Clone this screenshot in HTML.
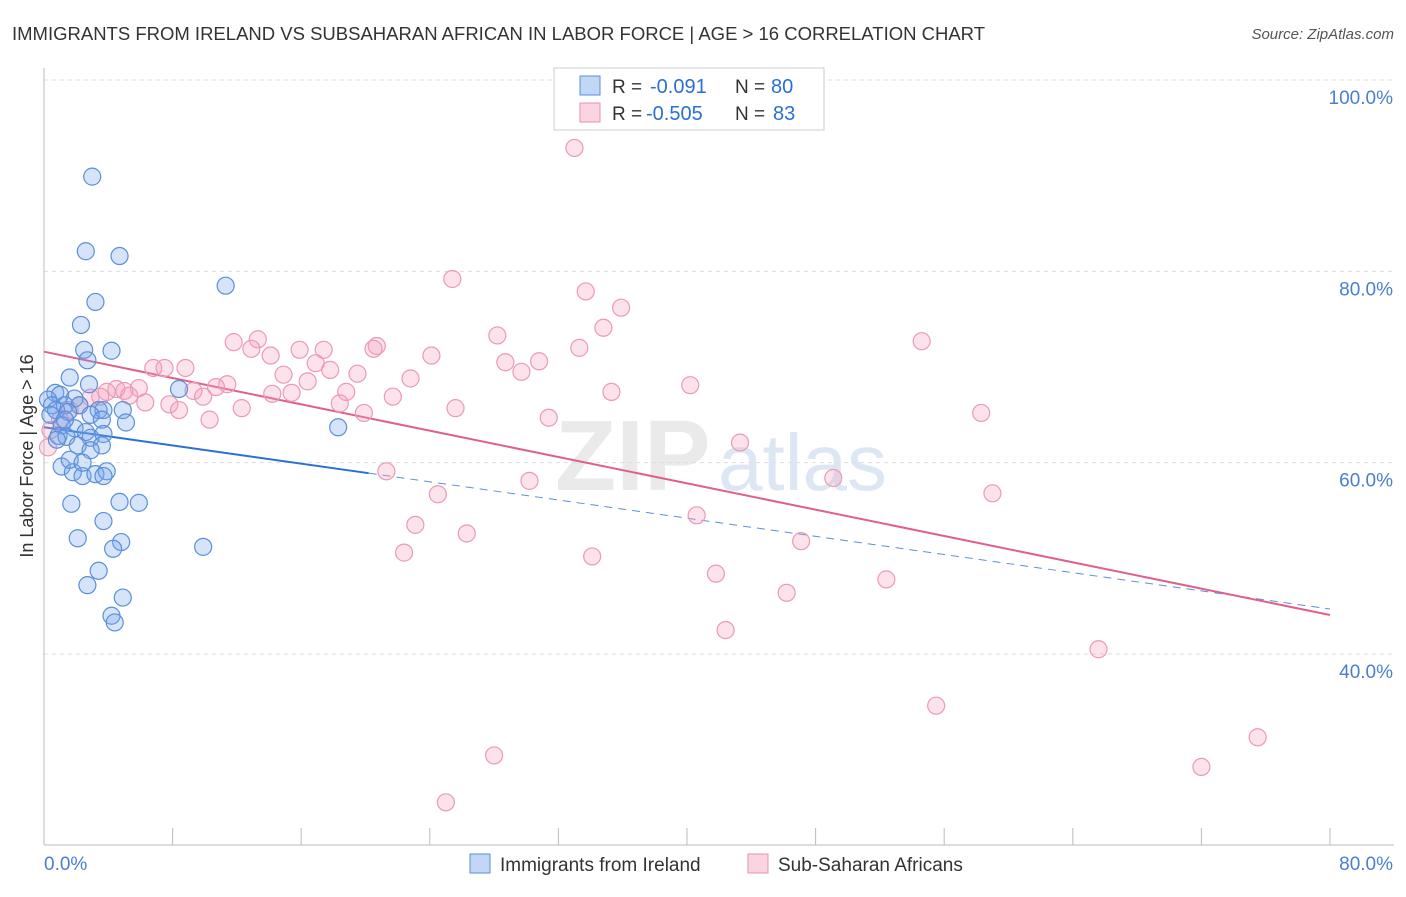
<!DOCTYPE html>
<html><head><meta charset="utf-8"><style>
body{margin:0;background:#fff;font-family:"Liberation Sans",sans-serif;}
svg text{font-family:"Liberation Sans",sans-serif;}
</style></head><body>
<svg id="chart" width="1406" height="892" xmlns="http://www.w3.org/2000/svg">
<text x="12" y="40" font-size="18" fill="#333" textLength="973" lengthAdjust="spacingAndGlyphs">IMMIGRANTS FROM IRELAND VS SUBSAHARAN AFRICAN IN LABOR FORCE | AGE &gt; 16 CORRELATION CHART</text>
<text x="1394" y="39" font-size="15" fill="#555" text-anchor="end" font-style="italic">Source: ZipAtlas.com</text>
<g>
<text x="555" y="490" font-size="100" fill="#ddd" font-family="Liberation Serif" font-weight="bold" opacity="0.6">ZIP</text>
<text x="718" y="490" font-size="80" fill="#c8d8ee" opacity="0.6">atlas</text>
</g>
<g id="grid"></g>
<g id="axes"></g>
<g id="lines"></g>
<g id="pts"></g>
<text transform="translate(33,456) rotate(-90)" font-size="18" fill="#333" text-anchor="middle">In Labor Force | Age &gt; 16</text>
<g>
<rect x="554" y="68" width="270" height="62" fill="#fff" stroke="#ccc"/>
<rect x="580" y="76" width="20" height="19" fill="rgba(120,165,235,0.45)" stroke="#5b8fd9"/>
<rect x="580" y="103" width="20" height="19" fill="rgba(245,160,190,0.45)" stroke="#e890aa"/>
<text x="612" y="93" font-size="19" fill="#333">R =</text>
<text x="650" y="93" font-size="20" fill="#2a6fd6">-0.091</text>
<text x="735" y="93" font-size="19" fill="#333">N =</text>
<text x="771" y="93" font-size="20" fill="#2a6fd6">80</text>
<text x="612" y="120" font-size="19" fill="#333">R =</text>
<text x="646" y="120" font-size="20" fill="#2a6fd6">-0.505</text>
<text x="735" y="120" font-size="19" fill="#333">N =</text>
<text x="773" y="120" font-size="20" fill="#2a6fd6">83</text>
</g>
<g>
<rect x="470" y="854" width="20" height="19" fill="rgba(120,165,235,0.45)" stroke="#5b8fd9"/>
<text x="500" y="871" font-size="19" fill="#333">Immigrants from Ireland</text>
<rect x="748" y="854" width="20" height="19" fill="rgba(245,160,190,0.45)" stroke="#e890aa"/>
<text x="778" y="871" font-size="19" fill="#333">Sub-Saharan Africans</text>
</g>
</svg>
<script>
const xTicks=[0,8,16,24,32,40,48,56,64,72,80];
const yTicks=[40,60,80,100];
const yTickLabels=["40.0%","60.0%","80.0%","100.0%"];
const xEndLabels=["0.0%","80.0%"];
const blueX=[3.0,2.6,4.7,11.3,3.2,2.3,2.5,4.2,2.7,1.6,2.8,8.4,0.7,1.0,1.9,0.25,0.5,1.3,2.2,3.4,3.7,4.9,0.75,1.5,2.9,3.6,5.1,1.1,1.9,2.6,0.9,1.4,2.9,3.7,3.6,18.3,1.1,1.8,2.4,3.2,3.9,3.7,1.7,4.7,5.9,3.7,2.1,4.8,4.3,9.9,3.4,2.7,4.9,4.2,4.4,0.4,1.3,2.1,2.9,0.8,1.6,2.4];
const blueY=[89.9,82.1,81.6,78.5,76.8,74.4,71.8,71.7,70.7,68.9,68.2,67.7,67.3,67.1,66.7,66.6,66.0,66.0,66.0,65.5,65.5,65.5,65.5,65.3,65.0,64.5,64.2,63.9,63.6,63.2,62.8,62.7,62.6,63.0,61.8,63.7,59.6,59.0,58.6,58.8,59.1,58.6,55.7,55.9,55.8,53.9,52.1,51.7,51.0,51.2,48.7,47.2,45.9,44.0,43.3,65.0,64.5,61.8,61.3,62.4,60.3,60.0];
const pinkX=[33.0,25.4,33.7,35.9,34.8,28.2,54.6,11.8,13.3,20.7,20.5,15.9,17.4,12.9,33.3,14.1,24.1,30.8,28.7,16.9,6.8,7.5,8.8,29.7,17.8,19.5,14.9,22.8,16.4,40.2,11.4,10.7,5.9,4.5,5.0,3.9,9.3,18.8,35.3,14.2,15.4,5.3,3.5,9.9,21.7,2.9,6.3,7.8,18.4,12.3,8.4,25.6,19.9,58.3,10.3,31.4,43.3,21.3,49.1,30.2,59.0,24.5,40.6,23.1,26.3,47.1,22.4,34.1,41.8,52.4,46.2,42.4,65.6,55.5,75.5,28.0,72.0,25.0,0.4,0.25,1.0,1.6,2.2];
const pinkY=[92.9,79.2,77.9,76.2,74.1,73.3,72.7,72.6,72.9,72.2,71.9,71.8,71.8,71.9,72.0,71.2,71.2,70.6,70.5,70.4,69.9,69.9,69.9,69.5,69.7,69.3,69.2,68.8,68.5,68.1,68.2,67.9,67.8,67.7,67.5,67.4,67.5,67.4,67.4,67.2,67.3,67.0,66.9,66.9,66.9,66.8,66.3,66.1,66.2,65.7,65.5,65.7,65.2,65.2,64.5,64.7,62.1,59.1,58.4,58.1,56.8,56.7,54.5,53.5,52.6,51.8,50.6,50.2,48.4,47.8,46.4,42.5,40.5,34.6,31.3,29.4,28.2,24.5,63.4,61.6,64.5,65.5,66.0];
const blueFit=[63.7,-0.2375];
const blueSolidEnd=[20.2];
const pinkFit=[71.6,-0.344];
const NS="http://www.w3.org/2000/svg";
const X=v=>44+v/80*1286;
const Y=v=>80+(100-v)*9.567;
function mk(tag,attrs,parent){const e=document.createElementNS(NS,tag);for(const k in attrs)e.setAttribute(k,attrs[k]);document.getElementById(parent).appendChild(e);return e;}
yTicks.forEach((t,i)=>{
 const g=mk('line',{x1:44,x2:1394,y1:Y(t),y2:Y(t),stroke:'#ddd','stroke-dasharray':'4,4'},'grid');
 
 
 const l=mk('text',{x:1393,y:Y(t)+24,'font-size':19,fill:'#4a7fd0','text-anchor':'end'},'axes');
 l.textContent=yTickLabels[i];
 
 
});
const ax=mk('line',{x1:44,x2:1394,y1:845,y2:845,stroke:'#bbb'},'axes');


const ay=mk('line',{x1:44,x2:44,y1:68,y2:845,stroke:'#bbb'},'axes');


xTicks.forEach(t=>{
 const k=mk('line',{x1:X(t),x2:X(t),y1:828,y2:845,stroke:'#bbb'},'axes');
 
 
});
const xl0=mk('text',{x:44,y:870,'font-size':19,fill:'#4a7fd0'},'axes');xl0.textContent=xEndLabels[0];


const xl1=mk('text',{x:1393,y:870,'font-size':19,fill:'#4a7fd0','text-anchor':'end'},'axes');xl1.textContent=xEndLabels[1];


pinkX.forEach((v,i)=>{
 const c=mk('circle',{cx:X(v),cy:Y(pinkY[i]),r:8.5,fill:'rgba(245,160,190,0.3)',stroke:'#eb9ab4','stroke-width':1.2},'pts');
 
 
});
blueX.forEach((v,i)=>{
 const c=mk('circle',{cx:X(v),cy:Y(blueY[i]),r:8.5,fill:'rgba(120,165,235,0.3)',stroke:'#5b8fd9','stroke-width':1.2},'pts');
 
 
});
const fb=x=>blueFit[0]+blueFit[1]*x, fp=x=>pinkFit[0]+pinkFit[1]*x;
const b1=mk('line',{x1:X(0),y1:Y(fb(0)),x2:X(blueSolidEnd[0]),y2:Y(fb(blueSolidEnd[0])),stroke:'#2a6fd6','stroke-width':2},'lines');


const b2=mk('line',{x1:X(blueSolidEnd[0]),y1:Y(fb(blueSolidEnd[0])),x2:X(80),y2:Y(fb(80)),stroke:'#5b8fd9','stroke-width':1,'stroke-dasharray':'8,6'},'lines');


const p1=mk('line',{x1:X(0),y1:Y(fp(0)),x2:X(80),y2:Y(fp(80)),stroke:'#e0608a','stroke-width':2},'lines');


</script>
</body></html>
